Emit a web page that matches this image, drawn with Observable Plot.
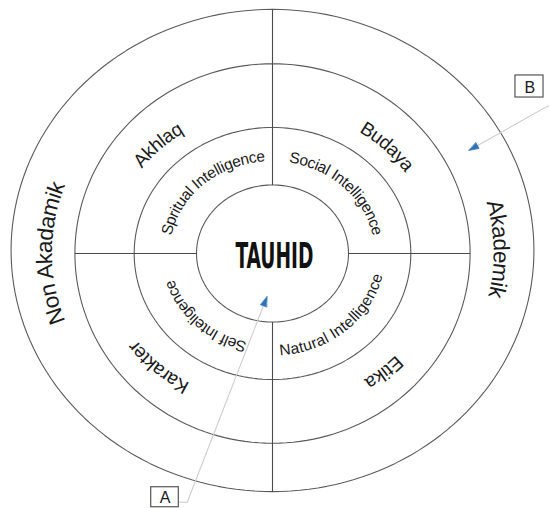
<!DOCTYPE html>
<html>
<head>
<meta charset="utf-8">
<script src="https://cdn.jsdelivr.net/npm/d3@7"></script>
<script src="https://cdn.jsdelivr.net/npm/@observablehq/plot@0.6"></script>
<style>
  body { margin: 0; background: #fff; }
  #chart svg { display: block; }
</style>
</head>
<body>
<div id="chart"></div>
<script>
// ---------- data ----------
const ringNames = ["Tauhid", "Intelligence", "Nilai", "Jalur"];
const ringRx = [1.00, 1.82, 2.60, 3.44];
const ringRy = [1.00, 1.84, 2.77, 3.52];
const centerLabel = "TAUHID";
const intelligenceLabels = ["Spritual Intelligence", "Social Intelligence", "Natural Intelligence", "Self Inteligence"];
const valueLabels = ["Akhlaq", "Budaya", "Etika", "Karakter"];
const pathLabels = ["Non Akadamik", "Akademik"];
const calloutLabels = ["A", "B"];

// ---------- layout ----------
const W = 549, H = 508;
const cx = 272, cy = 253, kx = 76, ky = 68.5;
const outerDy = 0.044;
const FONT = "'Liberation Sans', Arial, Helvetica, sans-serif";

const intelAngles = [226.8, 316.3, 47.3, 135.9];
const intelDir = [1, 1, -1, 1];
const valueAngles = [223.6, 317.2, 47, 134.7];
const valueR = [2.2, 2.2, 2.3, 2.28];
const pathAngles = [180, 359];
const pathR = [3.0, 3.02];

const curved = [
  ...intelligenceLabels.map((t, i) => ({text: t, r: 1.42, angle: intelAngles[i], dir: intelDir[i], size: 15.5})),
  ...valueLabels.map((t, i) => ({text: t, r: valueR[i], angle: valueAngles[i], dir: 1, size: 19})),
  ...pathLabels.map((t, i) => ({text: t, r: pathR[i], angle: pathAngles[i], dir: 1, size: 22.5}))
];

// ring outlines
const ringPts = [];
ringNames.forEach((name, i) => {
  const dy = i === 3 ? outerDy : 0;
  for (let a = 0; a < 360; a += 2) {
    const t = a * Math.PI / 180;
    ringPts.push({ring: name, x: ringRx[i] * Math.cos(t), y: ringRy[i] * Math.sin(t) + dy});
  }
});

// dividing lines
const dividers = [
  {x1: 0, y1: ringRy[0], x2: 0, y2: ringRy[3] + outerDy},
  {x1: 0, y1: -ringRy[0], x2: 0, y2: -(ringRy[3] - outerDy)},
  {x1: -ringRx[2], y1: 0, x2: -ringRx[0], y2: 0},
  {x1: ringRx[0], y1: 0, x2: ringRx[2], y2: 0}
];

// callouts (data units)
const boxes = [
  {label: calloutLabels[0], x1: -1.596, x2: -1.233, y1: -3.412, y2: -3.704, tx: -1.414, ty: -3.566},
  {label: calloutLabels[1], x1: 3.197, x2: 3.566, y1: 2.599, y2: 2.277, tx: 3.385, ty: 2.419}
];
const leaders = [
  {x1: -1.233, y1: -3.631, x2: -1.122, y2: -3.631},
  {x1: -1.122, y1: -3.631, x2: -0.072, y2: -0.628},
  {x1: 3.636, y1: 2.161, x2: 2.583, y2: 1.504}
];
function head(l, id) {
  const dx = (l.x2 - l.x1) * kx, dy = (l.y2 - l.y1) * ky;
  const len = Math.hypot(dx, dy), ux = dx / len, uy = dy / len;
  const L = 10, w = 3.3;
  const bx = l.x2 * kx - L * ux, by = l.y2 * ky - L * uy;
  return [
    {id, x: l.x2, y: l.y2},
    {id, x: (bx - w * uy) / kx, y: (by + w * ux) / ky},
    {id, x: (bx + w * uy) / kx, y: (by - w * ux) / ky}
  ];
}
const heads = [...head(leaders[1], "A"), ...head(leaders[2], "B")];

const plot = Plot.plot({
  width: W, height: H,
  margin: 0, inset: 0,
  x: {domain: [-cx / kx, (W - cx) / kx], axis: null},
  y: {domain: [-(H - cy) / ky, cy / ky], axis: null},
  style: {background: "#fff", fontFamily: FONT},
  marks: [
    Plot.line(ringPts, {x: "x", y: "y", z: "ring", stroke: "#5a5a5a", strokeWidth: 1.1, curve: "linear-closed"}),
    Plot.link(dividers, {x1: "x1", y1: "y1", x2: "x2", y2: "y2", stroke: "#4a4a4a", strokeWidth: 1.1}),
    Plot.link(leaders, {x1: "x1", y1: "y1", x2: "x2", y2: "y2", stroke: "#cdcdcd", strokeWidth: 1.1}),
    Plot.line(heads, {x: "x", y: "y", z: "id", fill: "#2f72b5", stroke: "#2f72b5", strokeWidth: 0.6, curve: "linear-closed"}),
    Plot.rect(boxes, {x1: "x1", x2: "x2", y1: "y1", y2: "y2", fill: "#fff", stroke: "#555", strokeWidth: 1.2}),
    Plot.text(boxes, {x: "tx", y: "ty", text: "label", fontSize: 16, fill: "#1a1a1a", lineAnchor: "middle"}),
    Plot.text([centerLabel], {x: () => 0.026, y: () => -0.045, text: d => d, fontSize: 35, fontWeight: "bold",
      fontFamily: "'Liberation Sans Narrow', 'DejaVu Sans Condensed', 'Liberation Sans', sans-serif",
      fill: "#111", lineAnchor: "middle"})
  ]
});

document.getElementById("chart").appendChild(plot);

// curved labels placed through the plot's scales
const sx = plot.scale("x"), sy = plot.scale("y");
const svg = d3.select(plot);
const defs = svg.append("defs");
const g = svg.append("g").attr("font-family", FONT).attr("fill", "#1a1a1a");
curved.forEach((c, i) => {
  const pts = [];
  for (let k = 0; k <= 180; k++) {
    const a = (c.angle + c.dir * (k - 90)) * Math.PI / 180;
    const u = c.r * Math.cos(a), v = c.r * Math.sin(a);
    pts.push([sx.apply(u).toFixed(2), sy.apply(-v).toFixed(2)]);
  }
  defs.append("path").attr("id", "lp" + i).attr("d", "M" + pts.map(p => p.join(",")).join("L"));
  g.append("text").attr("font-size", c.size)
    .append("textPath").attr("href", "#lp" + i).attr("startOffset", "50%").attr("text-anchor", "middle")
    .append("tspan").attr("dy", "0.35em").text(c.text);
});

svg.selectAll("text").filter(function() { return this.textContent === centerLabel; })
  .attr("textLength", 78).attr("lengthAdjust", "spacingAndGlyphs");
</script>
</body>
</html>
